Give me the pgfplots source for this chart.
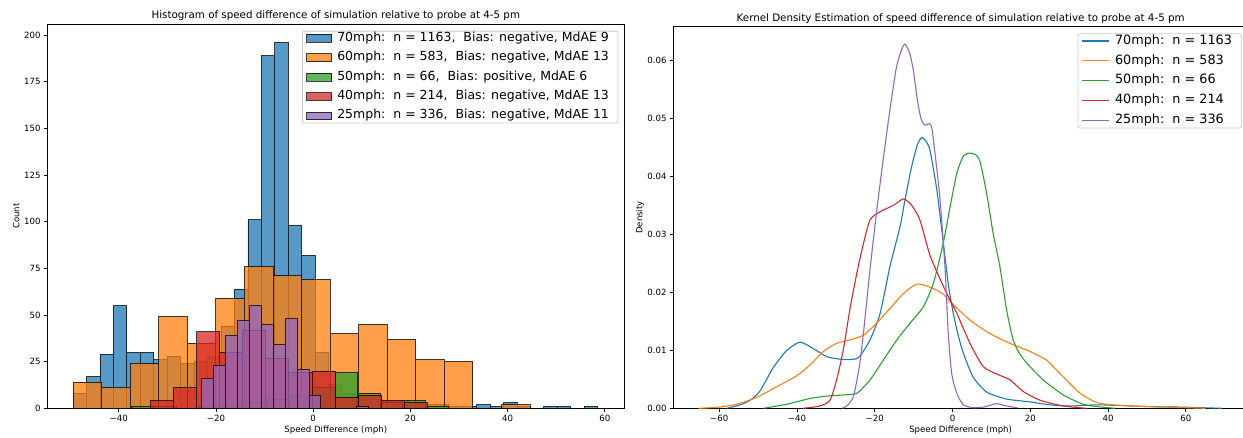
\documentclass[border=0pt]{standalone}
\usepackage{fontspec}
\setmainfont{DejaVu Sans}
\usepackage{pgfplots}
\pgfplotsset{compat=1.18}
\definecolor{c1}{HTML}{1F77B4}
\definecolor{c2}{HTML}{FF7F0E}
\definecolor{c3}{HTML}{2CA02C}
\definecolor{c4}{HTML}{D62728}
\definecolor{c5}{HTML}{9467BD}
\definecolor{legbord}{HTML}{CCCCCC}
\pgfplotsset{
  base/.style={
    scale only axis,
    axis line style={black, line width=0.8pt},
    tick style={black, line width=0.8pt},
    major tick length=3.5pt,
    tick align=outside,
    tick pos=left,
    ticklabel style={font=\fontsize{8.6}{10}\selectfont},
    xticklabel style={inner sep=0pt, anchor=north, yshift=-3.5pt},
    yticklabel style={inner sep=0pt, anchor=east, xshift=-3pt},
    label style={font=\fontsize{8.6}{10}\selectfont},
    title style={font=\fontsize{10.3}{12}\selectfont, at={(0.5,1)}, anchor=base, yshift=-1pt},
    legend cell align=left,
  },
  histbar/.style={ybar interval, fill=#1, draw=black, opacity=0.75, line width=0.8pt,
    legend image code/.code={\draw[sharp corners, fill=#1, draw=black, opacity=0.75, line width=0.8pt] (0pt,-3.9pt) rectangle (25pt,3.9pt);}},
  kde/.style={color=#1, line width=1.1pt, smooth, tension=0.4,
    legend image code/.code={\draw[sharp corners, draw=#1, line width=1.1pt] (0pt,0pt) -- (26.7pt,0pt);}},
}
\begin{document}
\begin{tikzpicture}
\useasboundingbox (0pt,0pt) rectangle (1243pt,437pt);
% ---------------- Histogram ----------------
\begin{axis}[base,
  at={(47.3pt,28.7pt)}, anchor=south west,
  width=577pt, height=384.3pt,
  xmin=-54.7, xmax=64.0, ymin=0, ymax=206,
  xtick={-40,-20,0,20,40,60},
  xticklabels={−40,−20,0,20,40,60},
  ytick={0,25,50,75,100,125,150,175,200},
  yticklabels={0,25,50,75,100,125,150,175,200},
  xlabel={Speed Difference (mph)},
  ylabel={Count},
  xlabel style={at={(axis description cs:0.5,-0.0565)}, anchor=center},
  ylabel style={at={(axis description cs:-0.054,0.5)}, anchor=center},
  title={Histogram of speed difference of simulation relative to probe at 4-5 pm},
  legend style={at={(1,1)}, anchor=north east, xshift=-6pt, yshift=-6.7pt,
    draw=legbord, line width=0.8pt, rounded corners=2pt, fill=white,
    font=\fontsize{12.5}{15}\selectfont, inner xsep=4pt, inner ysep=1pt,
    row sep=7.1pt, column sep=0pt,
    nodes={inner xsep=5pt, inner ysep=0pt, text height=9.2pt, text depth=3.1pt}},
]
\addplot[histbar=c1] coordinates {(-49.40,8) (-46.63,17) (-43.87,29) (-41.10,55) (-38.33,30) (-35.57,30) (-32.80,26) (-30.03,28) (-27.26,24) (-24.50,25) (-21.73,28) (-18.96,44) (-16.20,64) (-13.43,101) (-10.66,189) (-7.90,196) (-5.13,98) (-2.36,82) (0.41,30) (3.17,13) (5.94,8) (8.71,6) (11.47,5) (14.24,4) (17.01,4) (19.78,3) (22.54,2) (25.31,2) (28.08,1) (30.84,1) (33.61,2) (36.38,1) (39.14,3) (41.91,1) (44.68,0) (47.44,1) (50.21,1) (52.98,0) (55.74,1) (58.51,0)};
\addlegendentry{70mph:\ \ n = 1163,\ \ Bias: negative, MdAE 9}
\addplot[histbar=c2] coordinates {(-49.4,14) (-43.525,11) (-37.65,24) (-31.775,49) (-25.9,35) (-20.025,59) (-14.15,76) (-8.275,71) (-2.4,69) (3.475,40) (9.35,45) (15.225,37) (21.1,26) (26.975,25) (32.85,0) (38.725,2) (44.6,0)};
\addlegendentry{60mph:\ \ n = 583,\ \ Bias: negative, MdAE 13}
\addplot[histbar=c3] coordinates {(-37.38,1) (-32.73,1) (-28.08,0) (-23.43,1) (-18.78,2) (-14.13,3) (-9.48,5) (-4.83,7) (-0.18,11) (4.47,19) (9.12,8) (13.77,3) (18.42,4) (23.07,1) (27.72,0)};
\addlegendentry{50mph:\ \ n = 66,\ \ Bias: positive, MdAE 6}
\addplot[histbar=c4] coordinates {(-33.5,4) (-28.75,11) (-24.0,41) (-19.25,30) (-14.5,42) (-9.75,27) (-5.0,19) (-0.25,20) (4.5,6) (9.25,7) (14.0,4) (18.75,3) (23.5,0)};
\addlegendentry{40mph:\ \ n = 214,\ \ Bias: negative, MdAE 13}
\addplot[histbar=c5] coordinates {(-22.97,16) (-20.515,23) (-18.06,39) (-15.605,47) (-13.15,55) (-10.695,45) (-8.24,34) (-5.785,48) (-3.33,21) (-0.875,7) (1.58,0) (4.035,0) (6.49,0) (8.945,1) (11.4,0)};
\addlegendentry{25mph:\ \ n = 336,\ \ Bias: negative, MdAE 11}
\end{axis}
% ---------------- KDE ----------------
\begin{axis}[base,
  at={(673.3pt,28.7pt)}, anchor=south west,
  width=574.7pt, height=381.6pt,
  xmin=-71.8, xmax=76.0, ymin=0, ymax=0.0658,
  xtick={-60,-40,-20,0,20,40,60},
  xticklabels={−60,−40,−20,0,20,40,60},
  ytick={0,0.01,0.02,0.03,0.04,0.05,0.06},
  yticklabels={0.00,0.01,0.02,0.03,0.04,0.05,0.06},
  scaled y ticks=false,
  xlabel={Speed Difference (mph)},
  ylabel={Density},
  xlabel style={at={(axis description cs:0.5,-0.0565)}, anchor=center},
  ylabel style={at={(axis description cs:-0.058,0.5)}, anchor=center},
  title={Kernel Density Estimation of speed difference of simulation relative to probe at 4-5 pm},
  legend style={at={(1,1)}, anchor=north east, xshift=-6.3pt, yshift=-6.6pt,
    draw=legbord, line width=0.8pt, rounded corners=2pt, fill=white,
    font=\fontsize{12.8}{15}\selectfont, inner xsep=4pt, inner ysep=1pt,
    row sep=7.2pt, column sep=0pt,
    nodes={inner xsep=5.3pt, inner ysep=0pt, text height=9.5pt, text depth=3.2pt}},
]
\addplot[kde=c1] coordinates {(-58,0) (-54.6,0.0006) (-52,0.0014) (-49.5,0.0030) (-46.1,0.0070) (-42.6,0.0100) (-39.2,0.0114) (-35.8,0.0103) (-32.3,0.0089) (-28.1,0.0084) (-25,0.0085) (-23.8,0.0090) (-21.2,0.0118) (-18.6,0.0164) (-16.1,0.0244) (-13.5,0.0313) (-12.2,0.0360) (-10.5,0.0417) (-9,0.0455) (-7.9,0.0467) (-6.8,0.0460) (-5.8,0.0445) (-4.1,0.0380) (-2.8,0.0310) (-1.9,0.0260) (-1,0.0210) (0.2,0.0164) (1.5,0.0125) (2.8,0.0095) (5.3,0.0054) (8.8,0.0028) (13.9,0.0016) (19.9,0.0011) (25,0.0006) (30.2,0.0004) (37,0.0006) (42.2,0.0005) (49.9,0.0003) (59.3,0.0002) (69.2,0)};
\addlegendentry{70mph:\ \ n = 1163}
\addplot[kde=c2] coordinates {(-65.3,0) (-60.2,0.0002) (-55.5,0.0007) (-50.3,0.0019) (-46.1,0.0034) (-40.1,0.0056) (-36.6,0.0075) (-33.2,0.0098) (-29.8,0.0112) (-26.4,0.0118) (-22.9,0.0126) (-19.5,0.0147) (-16.1,0.0172) (-12.6,0.0198) (-9.2,0.0214) (-5.8,0.0209) (-2.4,0.0197) (-0.6,0.0184) (4.5,0.0152) (9.6,0.0129) (14.8,0.0112) (19.9,0.0098) (24.2,0.0083) (28.5,0.0054) (32.8,0.0026) (37.1,0.0010) (41.3,0.0006) (49.9,0.0003) (60.2,0.0001) (65,0)};
\addlegendentry{60mph:\ \ n = 583}
\addplot[kde=c3] coordinates {(-48.6,0) (-42.6,0.0007) (-36.6,0.0017) (-32.3,0.0021) (-28.1,0.0023) (-24.6,0.0026) (-21.2,0.0049) (-17.8,0.0083) (-14.3,0.0118) (-10.9,0.0147) (-7.5,0.0175) (-4.9,0.0216) (-2.4,0.0284) (-0.6,0.0348) (1.1,0.0405) (2.8,0.0435) (4.5,0.0440) (6,0.0437) (7.1,0.0425) (8.8,0.0370) (10.5,0.0300) (12.2,0.0244) (13.9,0.0170) (15.6,0.0118) (17.2,0.0095) (19.1,0.0078) (23.3,0.0049) (28.5,0.0023) (33.6,0.0007) (37.1,0.0003) (41.8,0)};
\addlegendentry{50mph:\ \ n = 66}
\addplot[kde=c4] coordinates {(-38.4,0) (-34.1,0.0004) (-31.5,0.0014) (-29.8,0.0049) (-28.1,0.0100) (-26.4,0.0170) (-24.6,0.0233) (-22.9,0.0284) (-21.2,0.0325) (-18.6,0.0339) (-15.2,0.0350) (-12.6,0.0361) (-10.5,0.0350) (-8.4,0.0325) (-5.8,0.0264) (-3.2,0.0223) (-1.1,0.0193) (1.1,0.0164) (4.5,0.0112) (7.9,0.0072) (11.4,0.0059) (14.8,0.0049) (18.2,0.0029) (22.5,0.0014) (28.5,0.0004) (34.5,0)};
\addlegendentry{40mph:\ \ n = 214}
\addplot[kde=c5] coordinates {(-28.3,0) (-27,0.0005) (-25.5,0.002) (-24,0.007) (-22.9,0.013) (-21.2,0.024) (-19.5,0.034) (-18,0.042) (-16.5,0.0495) (-14.5,0.0585) (-13,0.0620) (-12.2,0.0628) (-11,0.0612) (-10,0.058) (-9,0.053) (-8,0.0497) (-7,0.0488) (-6,0.0491) (-5.3,0.0483) (-4.5,0.044) (-3.2,0.036) (-1.9,0.024) (-1.1,0.013) (-0.2,0.006) (1.1,0.0026) (2.8,0.0006) (5.3,0.0001) (7.9,0.0002) (10,0.0006) (11.4,0.0008) (13.9,0.0004) (16.7,0.0001)};
\addlegendentry{25mph:\ \ n = 336}
\end{axis}
\end{tikzpicture}
\end{document}
